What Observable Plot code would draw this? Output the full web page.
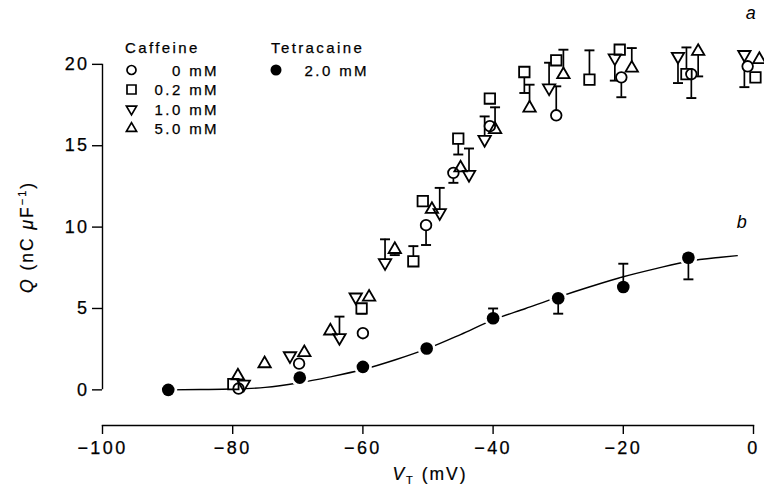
<!DOCTYPE html>
<html><head><meta charset="utf-8">
<script src="https://cdn.jsdelivr.net/npm/d3@7"></script>
<script src="https://cdn.jsdelivr.net/npm/@observablehq/plot@0.6"></script>
<style>
html,body{margin:0;padding:0;background:#fff;}
#chart{width:764px;height:486px;overflow:hidden;}
svg{display:block;}
</style></head><body><div id="chart"></div>
<script>
// ---- Data: [V (mV), Q (nC µF-1), error-bar end (or null)] ----
const caffeine0mM = [
  [-79.1, 0.08, null], [-69.8, 1.61, null], [-60.0, 3.48, null], [-50.3, 10.12, 8.9],
  [-46.1, 13.33, 12.72], [-40.5, 16.2, null], [-30.3, 16.87, 18.65], [-20.3, 19.2, 17.98],
  [-9.55, 19.4, 17.93], [-0.9, 19.88, null]
];
const caffeine02mM = [
  [-79.9, 0.35, null], [-60.2, 5.0, 4.68], [-52.25, 7.9, 8.83], [-50.8, 11.6, null],
  [-45.35, 15.44, 14.46], [-40.5, 17.9, null], [-35.2, 19.53, 18.24], [-30.3, 20.25, null],
  [-25.2, 19.06, 20.86], [-20.55, 20.9, null], [-10.3, 19.4, 21.04], [0.3, 19.2, null]
];
const caffeine10mM = [
  [-78.3, 0.35, null], [-71.2, 2.09, null], [-63.6, 3.21, 4.5], [-61.1, 5.7, null],
  [-56.6, 7.81, 9.25], [-48.2, 10.88, 12.41], [-43.7, 13.23, 14.83], [-41.3, 15.38, 16.8],
  [-31.4, 18.55, 20.1], [-21.3, 20.39, 19.0], [-11.6, 20.49, 18.85], [-1.4, 20.6, 18.6]
];
const caffeine50mM = [
  [-79.2, 0.86, null], [-75.1, 1.61, null], [-69.0, 2.29, null], [-65.0, 3.62, null],
  [-59.05, 5.7, null], [-55.1, 8.63, 8.28], [-49.4, 11.09, null], [-45.0, 13.64, null],
  [-39.7, 16.0, 17.36], [-34.4, 17.32, 18.75], [-29.2, 19.37, 20.9], [-18.7, 19.77, 21.0],
  [-8.5, 20.8, 19.26], [0.9, 20.3, null]
];
const tetracaine20mM = [
  [-89.9, 0.0, null], [-69.7, 0.75, null], [-60.0, 1.41, null], [-50.2, 2.54, null],
  [-40.0, 4.4, 5.0], [-30.0, 5.63, 4.68], [-20.0, 6.32, 7.75], [-10.0, 8.12, 6.79]
];
// fitted curve (b)
const fitV = [-90, -85, -80, -75, -70, -65, -60, -55, -50, -45, -40, -35, -30, -25, -20, -15, -10, -5, -2.5];
const fitQ = [0.0, 0.02, 0.05, 0.15, 0.42, 0.8, 1.25, 1.85, 2.55, 3.4, 4.3, 5.0, 5.7, 6.35, 6.95, 7.45, 7.9, 8.15, 8.25];
// ticks
const xTicks = [-100, -80, -60, -40, -20, 0];
const yTicks = [0, 5, 10, 15, 20];
// legend
const caffeineLabels = ["0 mM", "0.2 mM", "1.0 mM", "5.0 mM"];
const tetracaineLabel = "2.0 mM";

// ---- build tables ----
const toRows = (arr, s) => arr.map(([V, Q, E]) => ({V, Q, E, s}));
const open = [
  ...toRows(caffeine0mM, "circle"),
  ...toRows(caffeine02mM, "square"),
  ...toRows(caffeine10mM, "down"),
  ...toRows(caffeine50mM, "up")
];
const filled = toRows(tetracaine20mM, "filled");
const errRows = [...open, ...filled].filter(d => d.E != null);
const fit = fitV.map((V, i) => ({V, Q: fitQ[i]}));

const capSymbol = {draw(ctx, size) { const r = Math.sqrt(size / Math.PI); ctx.moveTo(-r, 0); ctx.lineTo(r, 0); }};
const minus = d => d < 0 ? "\u2212" + Math.abs(d) : String(d);

const sizes = {circle: 5.3, square: 5.9, down: 4.6, up: 4.6};
const sw = 1.8;
const openMarks = (fill, stroke) => [
  Plot.dot(open.filter(d => d.s === "circle"), {x: "V", y: "Q", symbol: "circle", r: sizes.circle, fill, stroke, strokeWidth: sw}),
  Plot.dot(open.filter(d => d.s === "square"), {x: "V", y: "Q", symbol: "square", r: sizes.square, fill, stroke, strokeWidth: sw}),
  Plot.dot(open.filter(d => d.s === "down"), {x: "V", y: "Q", symbol: "triangle", rotate: 180, r: sizes.down, fill, stroke, strokeWidth: sw}),
  Plot.dot(open.filter(d => d.s === "up"), {x: "V", y: "Q", symbol: "triangle", r: sizes.up, fill, stroke, strokeWidth: sw})
];

const chart = Plot.plot({
  width: 764, height: 486,
  marginLeft: 102, marginRight: 11, marginTop: 30, marginBottom: 61,
  style: {fontFamily: "'Liberation Sans', Arial, sans-serif", fontSize: "18px", letterSpacing: "2.4px", color: "black", background: "white", overflow: "visible"},
  x: {domain: [-100, 0]},
  y: {domain: [-2.19, 22.08]},
  marks: [
    Plot.frame({anchor: "bottom", strokeWidth: 1.4}),
    Plot.ruleX([-100], {y1: 0, y2: 20, strokeWidth: 1.4}),
    Plot.axisY({ticks: yTicks, tickSize: 10, tickPadding: 3, label: null, strokeWidth: 1.4}),
    Plot.axisX({ticks: xTicks, tickSize: 9, tickPadding: 7, tickFormat: minus, label: null, strokeWidth: 1.4}),
    Plot.line(fit, {x: "V", y: "Q", curve: "monotone-x", strokeWidth: 1.4}),
    Plot.dot(filled, {x: "V", y: "Q", r: 9, fill: "white"}),
    Plot.ruleX(errRows, {x: "V", y1: "Q", y2: "E", strokeWidth: 1.7}),
    Plot.dot(errRows, {x: "V", y: "E", symbol: capSymbol, r: 5, stroke: "black", strokeWidth: 1.9}),
    ...openMarks("white", "none"),
    ...openMarks("none", "black"),
    Plot.dot(filled, {x: "V", y: "Q", r: 6.3, fill: "black"})
  ]
});
document.getElementById("chart").appendChild(chart);
d3.select(chart).selectAll("g[aria-label$='tick label'] text").attr("stroke", "black").attr("stroke-width", 0.25);

// ---- extra text and legend ----
const svg = d3.select(chart);
const ff = "'Liberation Sans', Arial, sans-serif";
// y label
const yl = svg.append("text").attr("transform", "translate(33,237) rotate(-90)")
  .attr("text-anchor", "middle").attr("font-family", ff).attr("font-size", 17.5).attr("letter-spacing", "2px")
  .attr("stroke", "black").attr("stroke-width", 0.2);
yl.append("tspan").attr("font-style", "italic").text("Q");
yl.append("tspan").text(" (nC ");
yl.append("tspan").attr("font-style", "italic").text("\u03bc");
yl.append("tspan").text("F");
yl.append("tspan").attr("font-size", 11).attr("dy", -7).text("\u22121");
yl.append("tspan").attr("dy", 7).text(")");
// x label
const xl = svg.append("text").attr("x", 430).attr("y", 480).attr("text-anchor", "middle")
  .attr("font-family", ff).attr("font-size", 17.5).attr("letter-spacing", "2px")
  .attr("stroke", "black").attr("stroke-width", 0.2);
xl.append("tspan").attr("font-style", "italic").text("V");
xl.append("tspan").attr("font-size", 11).attr("dy", 4).text("T");
xl.append("tspan").attr("dy", -4).text(" (mV)");
// curve labels
svg.append("text").attr("x", 752).attr("y", 19).attr("font-family", ff).attr("font-size", 18).attr("font-style", "italic").attr("text-anchor", "middle").text("a");
svg.append("text").attr("x", 743).attr("y", 228).attr("font-family", ff).attr("font-size", 18).attr("font-style", "italic").attr("text-anchor", "middle").text("b");
// legend
const lg = svg.append("g").attr("font-family", ff).attr("font-size", 15).attr("letter-spacing", "2.4px").attr("text-anchor", "start");
const lgText = (x, y, t, anchor) => lg.append("text").attr("x", x).attr("y", y).attr("text-anchor", anchor)
  .attr("stroke", "black").attr("stroke-width", 0.25).text(t);
lgText(125, 53, "Caffeine", "start");
lgText(271, 53, "Tetracaine", "start");
const symTypes = [
  {t: d3.symbolCircle, size: 64, rot: 0},
  {t: d3.symbolSquare, size: 81, rot: 0},
  {t: d3.symbolTriangle, size: 45, rot: 180},
  {t: d3.symbolTriangle, size: 45, rot: 0}
];
const rowY = [70, 89.5, 109, 128.5];
caffeineLabels.forEach((lab, i) => {
  lg.append("path").attr("d", d3.symbol(symTypes[i].t, symTypes[i].size)())
    .attr("transform", `translate(131.5,${rowY[i]}) rotate(${symTypes[i].rot})`)
    .attr("fill", "none").attr("stroke", "black").attr("stroke-width", 1.7);
  lgText(219, rowY[i] + 5.5, lab, "end");
});
lg.append("circle").attr("cx", 276).attr("cy", rowY[0]).attr("r", 5.5).attr("fill", "black");
lgText(369, rowY[0] + 5.5, tetracaineLabel, "end");
</script>
</body></html>
